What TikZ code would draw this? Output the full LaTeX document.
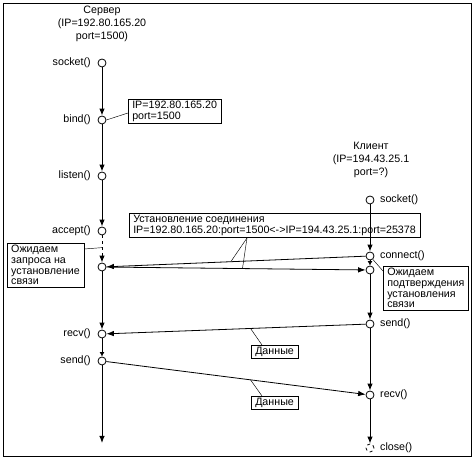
\documentclass[tikz,border=0pt]{standalone}
\usepackage{fontspec}
\setmainfont{Liberation Sans}
\usetikzlibrary{arrows.meta,calc}
\begin{document}
\begin{tikzpicture}[x=1pt,y=-1pt,
  pt/.style={circle,draw,fill=white,inner sep=0pt,minimum size=8pt,line width=0.8pt},
  flow/.style={line width=1pt,-{Latex[length=7pt,width=5.5pt]}},
  shortflow/.style={line width=1pt,-{Latex[length=4.5pt,width=5pt]}},
  msg/.style={line width=0.8pt,-{Latex[length=7.5pt,width=5.5pt]}},
  lbl/.style={font=\fontsize{10.7}{12}\selectfont,inner sep=0pt},
  title/.style={font=\fontsize{10.7}{13}\selectfont,align=center,inner sep=0pt},
  note/.style={draw,line width=0.5pt,font=\fontsize{10.7}{10.8}\selectfont,align=left,inner xsep=4pt,inner ysep=1.8pt},
  pinline/.style={line width=0.45pt}]
\useasboundingbox (0,0) rectangle (475,462);
\draw[line width=0.8pt] (3,3) rectangle (471,456);

% titles
\node[title] (srvt) at (102,24) {Сервер\\(IP=192.80.165.20\\port=1500)};
\node[title] (clit) at (371,160) {Клиент\\(IP=194.43.25.1\\port=?)};

% server points
\node[pt] (s1) at (102,63) {};
\node[pt] (s2) at (102,120) {};
\node[pt] (s3) at (102,176) {};
\node[pt] (s4) at (102,231) {};
\node[pt] (s5) at (102,267) {};
\node[pt] (s6) at (102,334) {};
\node[pt] (s7) at (102,361) {};
\coordinate (send) at (102,443);

\node[lbl,anchor=east] (ls1) at (91,63) {socket()};
\node[lbl,anchor=east] (ls2) at (91,120) {bind()};
\node[lbl,anchor=east] (ls3) at (91,176) {listen()};
\node[lbl,anchor=east] (ls4) at (91,231) {accept()};
\node[lbl,anchor=east] (ls6) at (91,334) {recv()};
\node[lbl,anchor=east] (ls7) at (91,361) {send()};

\draw[flow] (s1) -- (s2);
\draw[flow] (s2) -- (s3);
\draw[flow] (s3) -- (s4);
\draw[flow,dashed] (s4) -- (s5) coordinate[pos=0.45] (sw);
\draw[flow] (s5) -- (s6);
\draw[shortflow] (s6) -- (s7);
\draw[flow] (s7) -- (send);

% client points
\node[pt] (c1) at (370,200) {};
\node[pt] (c2) at (370,256) {};
\node[pt] (c3) at (370,270) {};
\node[pt] (c4) at (370,324) {};
\node[pt] (c5) at (370,395) {};
\node[pt,dashed] (c6) at (370,448) {};

\node[lbl,anchor=west] (lc1) at (380,200) {socket()};
\node[lbl,anchor=west] (lc2) at (380,256) {connect()};
\node[lbl,anchor=west] (lc4) at (380,324) {send()};
\node[lbl,anchor=west] (lc5) at (380,395) {recv()};
\node[lbl,anchor=west] (lc6) at (380,448) {close()};

\draw[flow] (c1) -- (c2);
\draw[shortflow] (c2) -- (c3);
\draw[flow] (c3) -- (c4);
\draw[flow] (c4) -- (c5);
\draw[flow] (c5) -- (c6);

% messages
\draw[msg] (c2) -- (s5) coordinate[pos=0.52] (m1);
\draw[msg] (s5) -- (c3) coordinate[pos=0.525] (m2);
\draw[msg] (c4) -- (s6) coordinate[pos=0.444] (d1);
\draw[msg] (s7) -- (c5) coordinate[pos=0.556] (d2);

% notes
\node[note,anchor=north west] (nbind) at (128,99) {IP=192.80.165.20\\port=1500};
\draw[pinline] (s2.east) -- ($(nbind.north west)+(0,14)$);

\node[note,anchor=north west] (nconn) at (129,213) {Установление соединения\\IP=192.80.165.20:port=1500<->IP=194.43.25.1:port=25378};
\coordinate (cp) at (247,238);
\draw[pinline] (cp) -- (m1);
\draw[pinline] (cp) -- (m2);

\node[note,anchor=north west] (nsw) at (7,243) {Ожидаем\\запроса на\\установление\\связи};
\draw[pinline] ($(nsw.north east)+(0,6)$) -- (sw);

\node[note,anchor=north west] (ncw) at (383,266) {Ожидаем\\подтверждения\\установления\\связи};
\draw[pinline] (c2.-50) -- ($(ncw.north west)+(0,5)$);

\node[note,anchor=north west] (nd1) at (251,345) {Данные};
\draw[pinline] (d1) -- ($(nd1.north west)+(11,0)$);
\node[note,anchor=north west] (nd2) at (251,396) {Данные};
\draw[pinline] (d2) -- ($(nd2.north west)+(11,0)$);
\end{tikzpicture}
\end{document}
